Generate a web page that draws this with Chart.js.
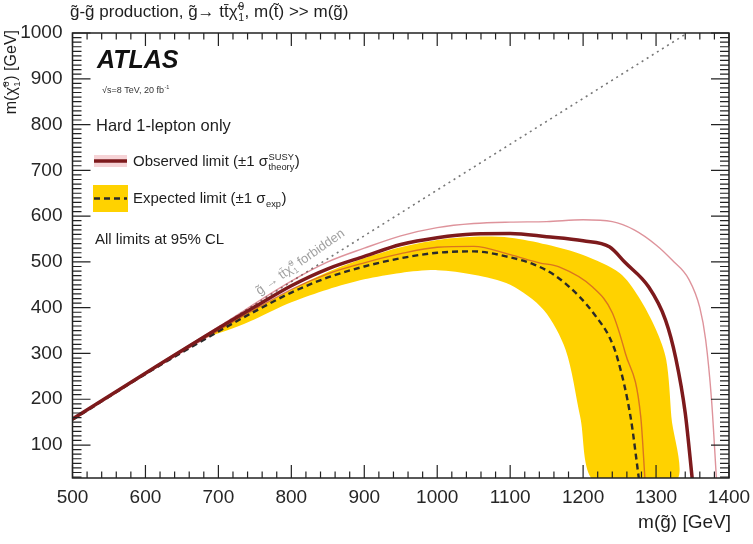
<!DOCTYPE html>
<html>
<head>
<meta charset="utf-8">
<script src="https://cdn.jsdelivr.net/npm/chart.js@4.4.1/dist/chart.umd.min.js"></script>
<style>
  html, body { margin: 0; padding: 0; background: #fff; }
  canvas { display: block; }
</style>
</head>
<body>
<canvas id="c" width="753" height="544"></canvas>
<script>
// Axis ticks
const X_TICKS = [500, 600, 700, 800, 900, 1000, 1100, 1200, 1300, 1400];
const Y_TICKS = [100, 200, 300, 400, 500, 600, 700, 800, 900, 1000];

// Observed limit (nominal)
const OBS_X = [500, 600, 700, 750, 800, 850, 900, 950, 1000, 1050, 1100, 1150, 1200, 1236, 1258, 1290, 1313, 1327, 1340, 1350];
const OBS_Y = [157, 257, 355, 402, 448, 485, 512, 538, 553, 561, 562, 555, 546, 533, 498, 445, 373, 290, 170, 20];

// Observed limit, +1 sigma theory
const OBS_UP_X = [500, 600, 700, 800, 850, 900, 950, 1000, 1050, 1100, 1150, 1200, 1240, 1270, 1300, 1322, 1345, 1360, 1368, 1376, 1383];
const OBS_UP_Y = [158, 259, 358, 458, 500, 530, 557, 575, 584, 587, 588, 592, 588, 570, 537, 504, 462, 400, 330, 200, 20];

// Observed limit, -1 sigma theory
const OBS_DN_X = [500, 600, 700, 800, 850, 900, 950, 1000, 1050, 1100, 1140, 1167, 1213, 1240, 1258, 1279, 1285];
const OBS_DN_Y = [156, 255, 350, 440, 474, 498, 518, 532, 534, 516, 498, 489, 445, 389, 300, 162, 20];

// Expected limit (median)
const EXP_X = [500, 600, 700, 750, 800, 850, 900, 950, 1000, 1050, 1100, 1130, 1160, 1195, 1218, 1236, 1247, 1265, 1277];
const EXP_Y = [155, 255, 348, 392, 433, 466, 490, 508, 520, 523, 510, 496, 472, 424, 380, 336, 290, 162, 20];

// Expected +-1 sigma band: upper and lower edges
const BAND_HI_X = [680, 720, 750, 800, 850, 900, 950, 1000, 1050, 1100, 1150, 1200, 1250, 1276, 1300, 1314, 1321, 1327];
const BAND_HI_Y = [335, 372, 398, 440, 478, 508, 532, 548, 555, 553, 538, 515, 476, 424, 352, 286, 162, 20];
const BAND_LO_X = [680, 720, 750, 800, 850, 900, 950, 1000, 1050, 1100, 1146, 1176, 1196, 1216];
const BAND_LO_Y = [333, 355, 375, 412, 440, 462, 476, 482, 472, 450, 395, 308, 162, 20];

// Kinematic boundary g~ -> t t chi
const FORB_X = [500, 1343];
const FORB_Y = [157, 1000];

const FONT = "'Liberation Sans', Arial, Helvetica, sans-serif";
const TXT = '#1e1e1e';

function pts(xs, ys) { return xs.map((x, i) => ({ x: x, y: ys[i] })); }

// band polygon: along upper edge, back along lower edge
const bandPoly = pts(BAND_HI_X, BAND_HI_Y).concat(pts(BAND_LO_X, BAND_LO_Y).reverse());

// ---- rich text helpers (super/subscripts) ----
function partWidth(ctx, p, size) {
  if (p.t !== undefined) { ctx.font = size + 'px ' + FONT; return ctx.measureText(p.t).width; }
  ctx.font = (size * 0.62) + 'px ' + FONT;
  const a = p.sup ? ctx.measureText(p.sup).width : 0;
  const b = p.sub ? ctx.measureText(p.sub).width : 0;
  return Math.max(a, b) + 1;
}
function richWidth(ctx, parts, size) {
  let w = 0; parts.forEach(p => { w += partWidth(ctx, p, size); }); return w;
}
function drawRich(ctx, x, y, parts, size, color) {
  ctx.fillStyle = color || TXT;
  ctx.textBaseline = 'alphabetic';
  ctx.textAlign = 'left';
  let cx = x;
  parts.forEach(p => {
    const w = partWidth(ctx, p, size);
    if (p.t !== undefined) {
      ctx.font = size + 'px ' + FONT;
      ctx.fillText(p.t, cx, y);
    } else {
      ctx.font = (size * 0.62) + 'px ' + FONT;
      if (p.sup) ctx.fillText(p.sup, cx + 0.5, y - size * 0.42);
      if (p.sub) ctx.fillText(p.sub, cx + 0.5, y + size * 0.25);
    }
    cx += w;
  });
  return cx - x;
}

// ---- frame, inside ticks and text annotations ----
const atlasDecor = {
  id: 'atlasDecor',
  afterDraw(chart) {
    const ctx = chart.ctx;
    const a = chart.chartArea;
    const xs = chart.scales.x, ys = chart.scales.y;
    ctx.save();

    // frame
    ctx.strokeStyle = '#222';
    ctx.lineWidth = 1.5;
    ctx.strokeRect(a.left, a.top, a.right - a.left, a.bottom - a.top);

    // x ticks (bottom and top)
    ctx.lineWidth = 1.2;
    for (let v = xs.min; v <= xs.max + 0.01; v += 20) {
      const px = xs.getPixelForValue(v);
      const major = Math.abs(v % 100) < 0.01;
      const L = major ? 13 : 6.5;
      ctx.beginPath();
      ctx.moveTo(px, a.bottom); ctx.lineTo(px, a.bottom - L);
      ctx.moveTo(px, a.top); ctx.lineTo(px, a.top + L);
      ctx.stroke();
    }
    // y ticks (left and right)
    for (let v = Math.ceil(ys.min / 10) * 10; v <= ys.max + 0.01; v += 10) {
      const py = ys.getPixelForValue(v);
      const major = Math.abs(v % 100) < 0.01;
      const L = major ? 18 : 9;
      ctx.beginPath();
      ctx.moveTo(a.left, py); ctx.lineTo(a.left + L, py);
      ctx.moveTo(a.right, py); ctx.lineTo(a.right - L, py);
      ctx.stroke();
    }

    // header
    drawRich(ctx, 70, 17, [
      { t: 'g\u0303-g\u0303 production, g\u0303\u2192 tt\u0304\u03c7\u0303' },
      { sup: '0', sub: '1' },
      { t: ', m(t\u0303) >> m(g\u0303)' }
    ], 17);

    // ATLAS label
    ctx.fillStyle = '#111';
    ctx.font = 'italic bold 25px ' + FONT;
    ctx.textAlign = 'left';
    ctx.textBaseline = 'alphabetic';
    ctx.fillText('ATLAS', 97, 68);

    drawRich(ctx, 102, 93, [{ t: '\u221as=8 TeV, 20 fb' }, { sup: '-1' }], 9, '#333');
    drawRich(ctx, 96, 131, [{ t: 'Hard 1-lepton only' }], 16.5);

    // legend: observed
    ctx.fillStyle = '#f6d3d6';
    ctx.fillRect(94, 155, 33, 12);
    ctx.strokeStyle = '#7d1a1c';
    ctx.lineWidth = 3.5;
    ctx.beginPath(); ctx.moveTo(94, 161); ctx.lineTo(127, 161); ctx.stroke();
    drawRich(ctx, 133, 166, [
      { t: 'Observed limit (\u00b11 \u03c3' },
      { sup: 'SUSY', sub: 'theory' },
      { t: ')' }
    ], 15);

    // legend: expected
    ctx.fillStyle = '#ffd200';
    ctx.fillRect(93, 185, 35, 27);
    ctx.strokeStyle = '#2a2a2a';
    ctx.lineWidth = 2.5;
    ctx.setLineDash([6, 4]);
    ctx.beginPath(); ctx.moveTo(94, 198.5); ctx.lineTo(127, 198.5); ctx.stroke();
    ctx.setLineDash([]);
    drawRich(ctx, 133, 203, [
      { t: 'Expected limit (\u00b11 \u03c3' },
      { sub: 'exp' },
      { t: ')' }
    ], 15);

    drawRich(ctx, 95, 244, [{ t: 'All limits at 95% CL' }], 15);

    // kinematic boundary label, along the dotted line
    const x0 = xs.getPixelForValue(FORB_X[0]), y0 = ys.getPixelForValue(FORB_Y[0]);
    const x1 = xs.getPixelForValue(FORB_X[1]), y1 = ys.getPixelForValue(FORB_Y[1]);
    const ang = Math.atan2(y1 - y0, x1 - x0) - 0.05;
    const lparts = [
      { t: 'g\u0303 \u2192 tt\u0304\u03c7\u0303' },
      { sup: '0', sub: '1' },
      { t: ' forbidden' }
    ];
    const lw = richWidth(ctx, lparts, 13);
    ctx.save();
    ctx.translate(xs.getPixelForValue(812), ys.getPixelForValue(500));
    ctx.rotate(ang);
    drawRich(ctx, -lw / 2, 4, lparts, 13, '#a0a0a0');
    ctx.restore();

    // y axis title (rotated, aligned to the top end)
    const yparts = [{ t: 'm(\u03c7\u0303' }, { sup: '0', sub: '1' }, { t: ') [GeV]' }];
    const yw = richWidth(ctx, yparts, 16);
    ctx.save();
    ctx.translate(16, a.top - 3);
    ctx.rotate(-Math.PI / 2);
    drawRich(ctx, -yw, 0, yparts, 16);
    ctx.restore();

    // x axis title (aligned to the right end)
    const xparts = [{ t: 'm(g\u0303) [GeV]' }];
    const xw = richWidth(ctx, xparts, 19);
    drawRich(ctx, a.right + 2 - xw, 528, xparts, 19);

    ctx.restore();
  }
};

const lineBase = { showLine: true, pointRadius: 0, clip: 0, fill: false, cubicInterpolationMode: 'monotone' };
const tickLabel = v => String(v);

new Chart(document.getElementById('c'), {
  type: 'scatter',
  data: {
    datasets: [
      Object.assign({}, lineBase, { label: 'Observed', data: pts(OBS_X, OBS_Y), borderColor: '#7d1a1c', borderWidth: 3.5 }),
      Object.assign({}, lineBase, { label: 'Expected', data: pts(EXP_X, EXP_Y), borderColor: '#2a2a2a', borderWidth: 2.4, borderDash: [6, 4] }),
      Object.assign({}, lineBase, { label: 'Observed +1 sigma', data: pts(OBS_UP_X, OBS_UP_Y), borderColor: 'rgba(190,40,55,0.5)', borderWidth: 1.4 }),
      Object.assign({}, lineBase, { label: 'Observed -1 sigma', data: pts(OBS_DN_X, OBS_DN_Y), borderColor: 'rgba(190,40,55,0.55)', borderWidth: 1.4 }),
      Object.assign({}, lineBase, { label: 'Forbidden', data: pts(FORB_X, FORB_Y), borderColor: '#777', borderWidth: 1.6, borderDash: [2, 4], cubicInterpolationMode: 'default', tension: 0 }),
      { label: 'Expected band', data: bandPoly, showLine: true, pointRadius: 0, clip: 0, tension: 0.3,
        borderWidth: 0, borderColor: 'rgba(0,0,0,0)', backgroundColor: '#ffd200', fill: 'shape' }
    ]
  },
  options: {
    responsive: false,
    animation: false,
    events: [],
    layout: { padding: { top: 33, right: 24, left: 0, bottom: 0 } },
    plugins: { legend: { display: false }, tooltip: { enabled: false } },
    scales: {
      x: {
        type: 'linear', min: 500, max: 1400,
        grid: { display: false, drawTicks: false, tickLength: 0 }, border: { display: false },
        ticks: { padding: 8, color: '#262626', font: { family: FONT, size: 19 }, callback: tickLabel, maxRotation: 0 },
        afterBuildTicks(s) { s.ticks = X_TICKS.map(v => ({ value: v })); },
        afterFit(s) { s.height = 66; s.paddingLeft = 0; s.paddingRight = 0; }
      },
      y: {
        type: 'linear', min: 28, max: 1000,
        grid: { display: false, drawTicks: false, tickLength: 0 }, border: { display: false },
        ticks: { padding: 10, color: '#262626', font: { family: FONT, size: 19 }, callback: tickLabel },
        afterBuildTicks(s) { s.ticks = Y_TICKS.map(v => ({ value: v })); },
        afterFit(s) { s.width = 72.5; s.paddingTop = 0; s.paddingBottom = 0; }
      }
    }
  },
  plugins: [atlasDecor]
});
</script>
</body>
</html>
